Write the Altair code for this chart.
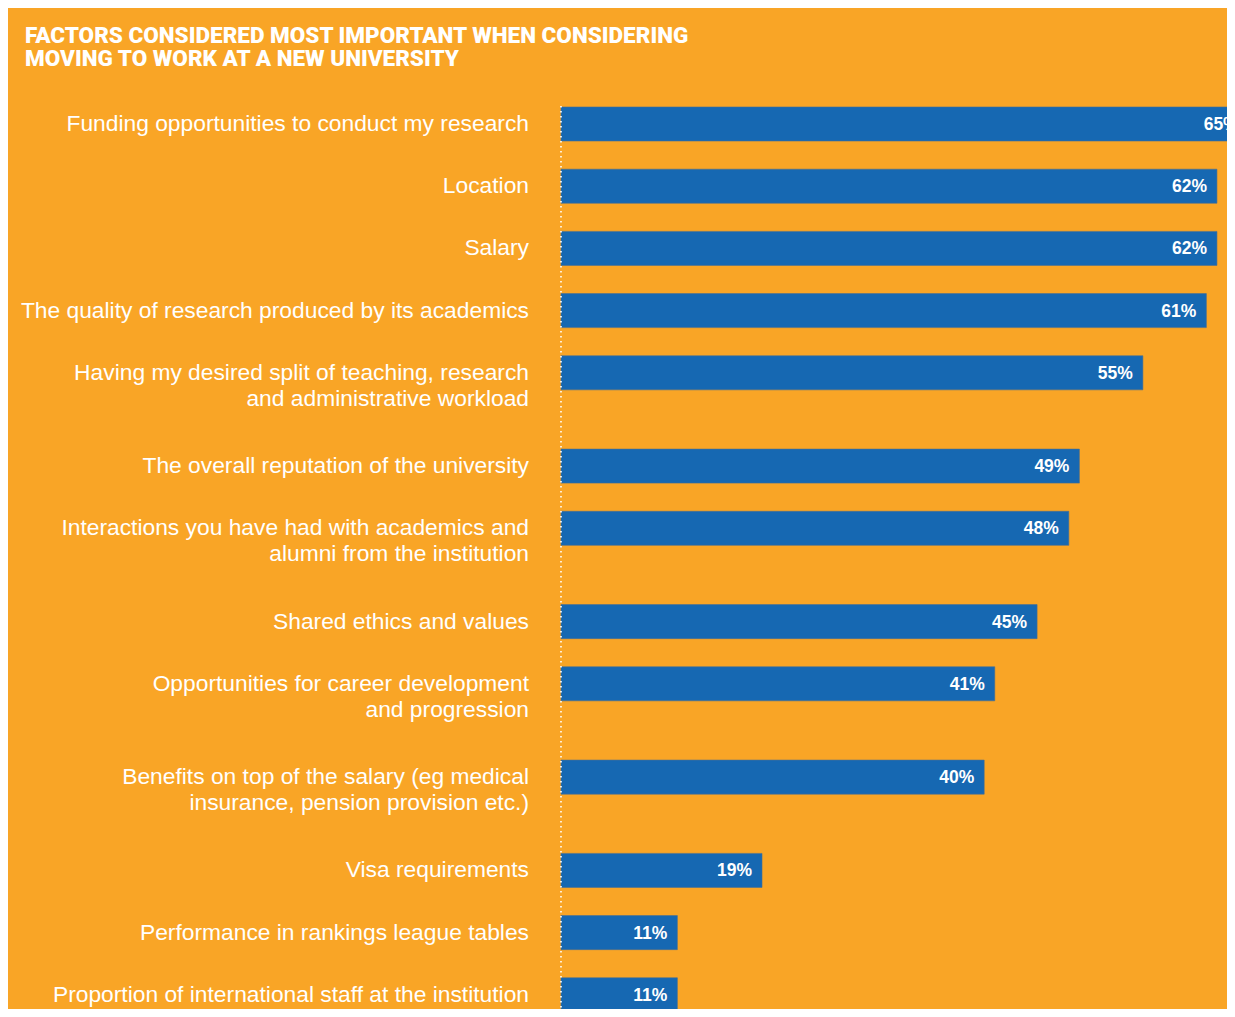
import altair as alt
import pandas as pd

TITLE = ["FACTORS CONSIDERED MOST IMPORTANT WHEN CONSIDERING",
         "MOVING TO WORK AT A NEW UNIVERSITY"]

labels = [
    "Funding opportunities to conduct my research",
    "Location",
    "Salary",
    "The quality of research produced by its academics",
    "Having my desired split of teaching, research\nand administrative workload",
    "The overall reputation of the university",
    "Interactions you have had with academics and\nalumni from the institution",
    "Shared ethics and values",
    "Opportunities for career development\nand progression",
    "Benefits on top of the salary (eg medical\ninsurance, pension provision etc.)",
    "Visa requirements",
    "Performance in rankings league tables",
    "Proportion of international staff at the institution",
]
values = [65, 62, 62, 61, 55, 49, 48, 45, 41, 40, 19, 11, 11]

ORANGE = "#F9A526"
BLUE = "#1668B2"

# row slots: single-line rows take 2 half-steps, two-line rows take 3
pos, p = [], 0
for lab in labels:
    pos.append(p)
    p += 3 if "\n" in lab else 2

df = pd.DataFrame({
    "label": labels,
    "value": values,
    "pos": pos,
    "pct": [f"{v}%" for v in values],
})

yscale = alt.Scale(domain=[-0.772, 28.456], reverse=True, nice=False, zero=False)
xscale = alt.Scale(domain=[0, 62.95], nice=False, zero=True)

base = alt.Chart(df)

bars = base.transform_calculate(
    lo="datum.pos - 0.547", hi="datum.pos + 0.547", zero="0"
).mark_rect(color=BLUE, stroke="#4a6f93", strokeWidth=0.6).encode(
    x=alt.X("zero:Q", scale=xscale, axis=None),
    x2="value:Q",
    y=alt.Y("lo:Q", scale=yscale, axis=None),
    y2="hi:Q",
)

pct = base.mark_text(
    align="right", baseline="alphabetic", dx=-10, dy=6,
    font="Liberation Sans", fontWeight="bold", fontSize=17.5, color="white",
).encode(
    x=alt.X("value:Q", scale=xscale, axis=None),
    y=alt.Y("pos:Q", scale=yscale, axis=None),
    text="pct:N",
)

cats = base.mark_text(
    align="right", baseline="alphabetic", dy=7, lineBreak="\n", lineHeight=26,
    font="Liberation Sans", fontSize=22.8, color="white",
).encode(
    x=alt.value(-32),
    y=alt.Y("pos:Q", scale=yscale, axis=None),
    text="label:N",
)

rule = alt.Chart(pd.DataFrame({"a": [-0.58], "b": [28.6]})).mark_rule(
    color="white", strokeWidth=1.6, strokeDash=[1.6, 3.4]
).encode(
    x=alt.value(0),
    y=alt.Y("a:Q", scale=yscale, axis=None),
    y2="b:Q",
)

title = alt.Chart(pd.DataFrame({"t": ["\n".join(TITLE)]})).mark_text(
    align="left", baseline="alphabetic", lineBreak="\n", lineHeight=23,
    font="Roboto", fontWeight=900, fontSize=22.5, color="white",
).encode(
    x=alt.value(-536),
    y=alt.value(-57),
    text="t:N",
)

chart = alt.layer(bars, rule, pct, cats, title).properties(
    width=666, height=909,
    padding={"left": 553, "top": 92, "right": 0, "bottom": 0},
    autosize=alt.AutoSizeParams(type="none"),
    background=ORANGE,
).configure_view(stroke=None)

chart.save("out.html", embed_options={"renderer": "svg", "actions": False})
